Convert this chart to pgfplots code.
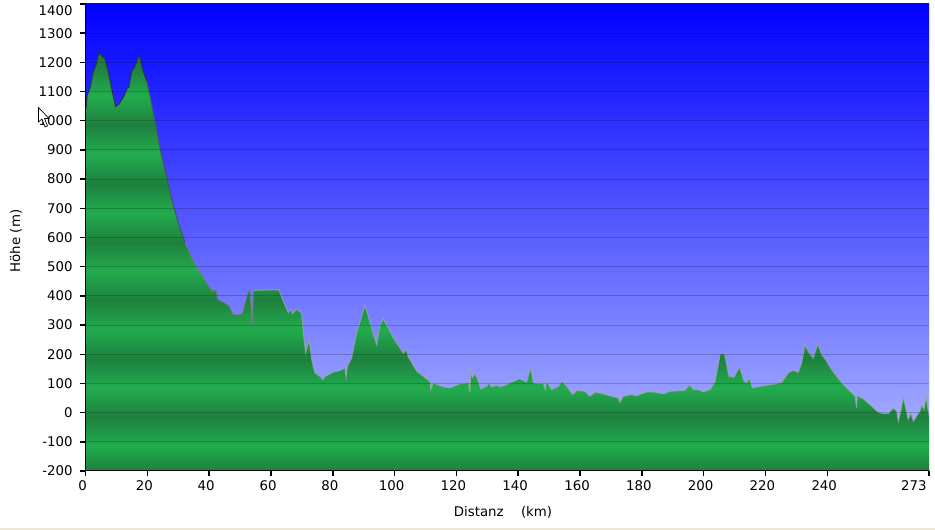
\documentclass[border=0pt]{standalone}
\usepackage{pgfplots}
\usepackage{pgfplotstable}
\usepackage{fontspec}
\setmainfont{DejaVu Sans}
\pgfplotsset{compat=1.18}

\definecolor{skytop}{RGB}{0,0,255}
\definecolor{skybot}{RGB}{180,190,255}
\definecolor{gd}{RGB}{30,128,62}
\definecolor{gl}{RGB}{34,172,78}
\definecolor{beige}{RGB}{236,233,216}
\definecolor{lineA}{RGB}{45,50,70}
\definecolor{lineB}{RGB}{75,80,100}
\definecolor{lineC}{RGB}{120,125,125}
\definecolor{lineD}{RGB}{165,170,165}
\definecolor{edgeline}{RGB}{120,210,170}

% green bands, one period per 200 m; the path runs from -200 to 1232 m
\pgfdeclareverticalshading{greenbands}{100bp}{
  color(0bp)=(gd);
  color(25bp)=(gd);
  color(28bp)=(gl);
  color(31.46bp)=(gd);
  color(34.95bp)=(gl);
  color(38.45bp)=(gd);
  color(41.94bp)=(gl);
  color(45.43bp)=(gd);
  color(48.92bp)=(gl);
  color(52.41bp)=(gd);
  color(55.9bp)=(gl);
  color(59.40bp)=(gd);
  color(62.89bp)=(gl);
  color(66.38bp)=(gd);
  color(69.87bp)=(gl);
  color(73.36bp)=(gd);
  color(75bp)=(gd);
  color(100bp)=(gd)
}

\pgfplotstableread{
km h
0.1 1040
0.55 1089
1.4 1112
2.5 1169
3.4 1192
4.3 1232
6.3 1211
7.3 1169
8.4 1112
9.7 1049
10.9 1058
12.2 1081
13.5 1112
14.0 1115
14.9 1169
15.8 1183
17.4 1226
18.5 1175
19.8 1135
21.0 1078
22.5 998
24.3 895
26.6 792
27.9 730
29.9 654
32.2 582
34.4 531
36.4 490
38.0 466
39.6 438
40.9 418
42.2 421
42.8 387
44.8 377
46.4 366
47.7 336
50.0 336
50.8 342
52.65 415
53.2 419
53.9 296
54.3 419
62.6 421
64.0 381
65.1 355
65.6 343
66.4 355
67.0 339
68.3 355
69.9 341
70.5 273
71.2 204
72.3 250
73.2 181
74.2 136
75.9 124
76.7 113
77.5 124
80.2 139
82.3 144
83.9 153
84.3 119
84.7 159
86.1 187
87.7 273
90.4 367
92.6 290
94.2 233
95.3 301
96.3 321
98.0 290
99.6 256
102.8 204
103.9 216
104.4 191
107.2 141
111.5 107
111.7 79
112.5 102
115.8 88
117.9 85
121.2 99
123.9 102
124.4 70
124.6 147
125.1 119
126.0 134
127.1 107
127.9 81
129.8 90
130.3 102
131.4 88
133.0 94
134.1 88
136.3 96
137.9 105
140.5 116
142.7 104
144.0 153
144.9 102
147.1 99
148.1 102
148.7 79
149.2 107
150.8 79
153.0 90
154.1 107
155.7 90
157.6 62
158.9 76
161.6 73
163.2 56
164.9 70
166.5 67
169.2 59
172.4 50
172.9 35
174.0 56
176.7 62
178.3 58
181.6 71
184.3 70
187.0 64
189.1 73
194.0 76
195.4 96
196.7 79
198.3 79
199.9 71
202.1 79
203.7 107
205.4 202
206.7 202
208.2 124
209.8 121
211.6 156
213.1 107
213.9 102
214.8 119
215.8 85
219.3 92
223.1 98
225.3 104
227.4 136
229.0 145
230.6 138
231.7 170
232.8 233
234.2 204
235.5 187
236.9 236
238.2 199
239.8 176
241.4 147
244.7 102
249.0 56
249.5 16
249.7 58
251.7 47
254.4 22
256.5 1
258.2 -3
259.8 -3
261.4 16
262.5 4
263.0 -30
263.8 4
264.6 56
265.5 10
266.2 -24
267.0 -1
267.9 -30
269.2 -7
270.0 4
270.6 27
271.3 10
272.0 56
272.7 4
273.0 -13
}\profile

\begin{document}
\begin{tikzpicture}
\path[use as bounding box] (0,0) rectangle (701.25pt,397.5pt);
\fill[beige] (0,0) rectangle (701.25pt,1.5pt);
\begin{axis}[
    at={(64.2pt,44.25pt)},
    anchor=south west,
    scale only axis,
    width=632.7pt,
    height=350.25pt,
    xmin=0,xmax=273,
    ymin=-200,ymax=1400,
    axis lines=left,
    axis line style={-,black,line width=0.75pt},
    axis on top,
    axis background/.style={shade,top color=skytop,bottom color=skybot},
    xtick={0,20,...,240},
    ytick={-200,-100,...,1300},
    extra x ticks={273},
    extra x tick style={xticklabel style={anchor=north east,xshift=3.75pt}},
    extra y ticks={1400},
    extra y tick style={yticklabel style={yshift=-5.25pt},grid=none},
    ymajorgrids,
    grid style={black,opacity=0.2,line width=0.75pt},
    tick align=outside,
    major tick length=4pt,
    tick style={black,line width=1.1pt},
    /pgf/number format/assume math mode=true,
    /pgf/number format/1000 sep={},
    xticklabel style={xshift=-2.25pt},
    yticklabel style={xshift=-2.25pt},
    tick label style={font=\fontsize{10}{12}\selectfont},
    label style={font=\fontsize{10}{12}\selectfont},
    every axis x label/.style={at={(axis description cs:0.4948,-0.0878)},anchor=center},
    every axis y label/.style={at={(axis description cs:-0.0825,0.4925)},anchor=center,rotate=90},
    xlabel={Distanz\hspace{13pt}(km)},
    ylabel={Höhe (m)},
]
\addplot[draw=none,shade,shading=greenbands] table[x=km,y=h] {\profile}
    -- (axis cs:273,-200) -- (axis cs:0,-200) -- cycle;
\addplot[lineA,line width=0.75pt,restrict x to domain=0:19.9] table[x=km,y=h] {\profile};
\addplot[lineB,line width=0.75pt,restrict x to domain=19.7:32.3] table[x=km,y=h] {\profile};
\addplot[lineC,line width=0.75pt,opacity=0.8,restrict x to domain=32.1:54.4] table[x=km,y=h] {\profile};
\addplot[lineD,line width=0.75pt,opacity=0.7,restrict x to domain=54.2:273] table[x=km,y=h] {\profile};
\draw[edgeline,line width=0.75pt] (rel axis cs:1,0) -- (rel axis cs:1,1);
\end{axis}
% mouse pointer caught in the screenshot
\begin{scope}[x=0.75pt,y=-0.75pt,shift={(0,397.5pt)}]
\filldraw[fill=white,draw=black,line width=0.5pt]
  (38.5,107.5) -- (38.5,122) -- (42,119) -- (45,127) -- (47.5,126) -- (44.5,118.5) -- (49,118.5) -- cycle;
\end{scope}
\end{tikzpicture}
\end{document}
